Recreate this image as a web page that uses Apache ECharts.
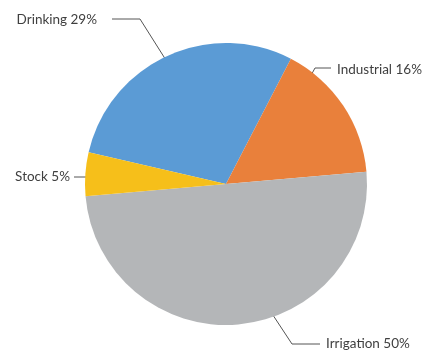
<!DOCTYPE html>
<html>
<head>
<meta charset="utf-8">
<script src="https://cdn.jsdelivr.net/npm/echarts@6/dist/echarts.min.js"></script>
<style>
  html, body { margin: 0; padding: 0; background: #ffffff; }
  #chart { width: 422px; height: 352px; }
</style>
</head>
<body>
<div id="chart"></div>
<script>
// Water use by sector (percent of total)
const categories = ['Drinking', 'Industrial', 'Irrigation', 'Stock'];
const shares = [29, 16, 50, 5];
const colors = ['#5b9bd5', '#e9803b', '#b4b6b8', '#f6bf1a'];

// Callout placement for each slice label: text anchor, alignment and leader path
const callouts = {
  Drinking:   { x: 97,  y: 20,  align: 'right', line: [[188, 95], [140, 19], [112, 19]] },
  Industrial: { x: 337, y: 70,  align: 'left',  line: [[296, 103], [315, 68], [331, 68]] },
  Irrigation: { x: 326, y: 344, align: 'left',  line: [[263, 300], [292, 344], [320, 344]] },
  Stock:      { x: 70,  y: 177, align: 'right', line: [[100, 177], [88, 177], [74, 177]] }
};

const chart = echarts.init(document.getElementById('chart'), null, { renderer: 'canvas' });

chart.setOption({
  backgroundColor: '#ffffff',
  animation: false,
  series: [{
    type: 'pie',
    center: [226, 184],
    radius: 141,
    startAngle: 167,
    clockwise: true,
    avoidLabelOverlap: false,
    data: categories.map((name, i) => ({
      name: name,
      value: shares[i],
      itemStyle: { color: colors[i] }
    })),
    itemStyle: { borderWidth: 0 },
    emphasis: { disabled: true },
    label: {
      show: true,
      formatter: p => p.name + ' ' + p.value + '%',
      fontFamily: 'Lato',
      fontSize: 13.5,
      color: '#3f3f3f'
    },
    labelLine: {
      show: true,
      lineStyle: { color: '#555555', width: 1 }
    },
    labelLayout: function (params) {
      const c = callouts[categories[params.dataIndex]];
      return {
        x: c.x,
        y: c.y,
        align: c.align,
        verticalAlign: 'middle',
        labelLinePoints: c.line
      };
    }
  }]
});
</script>
</body>
</html>
